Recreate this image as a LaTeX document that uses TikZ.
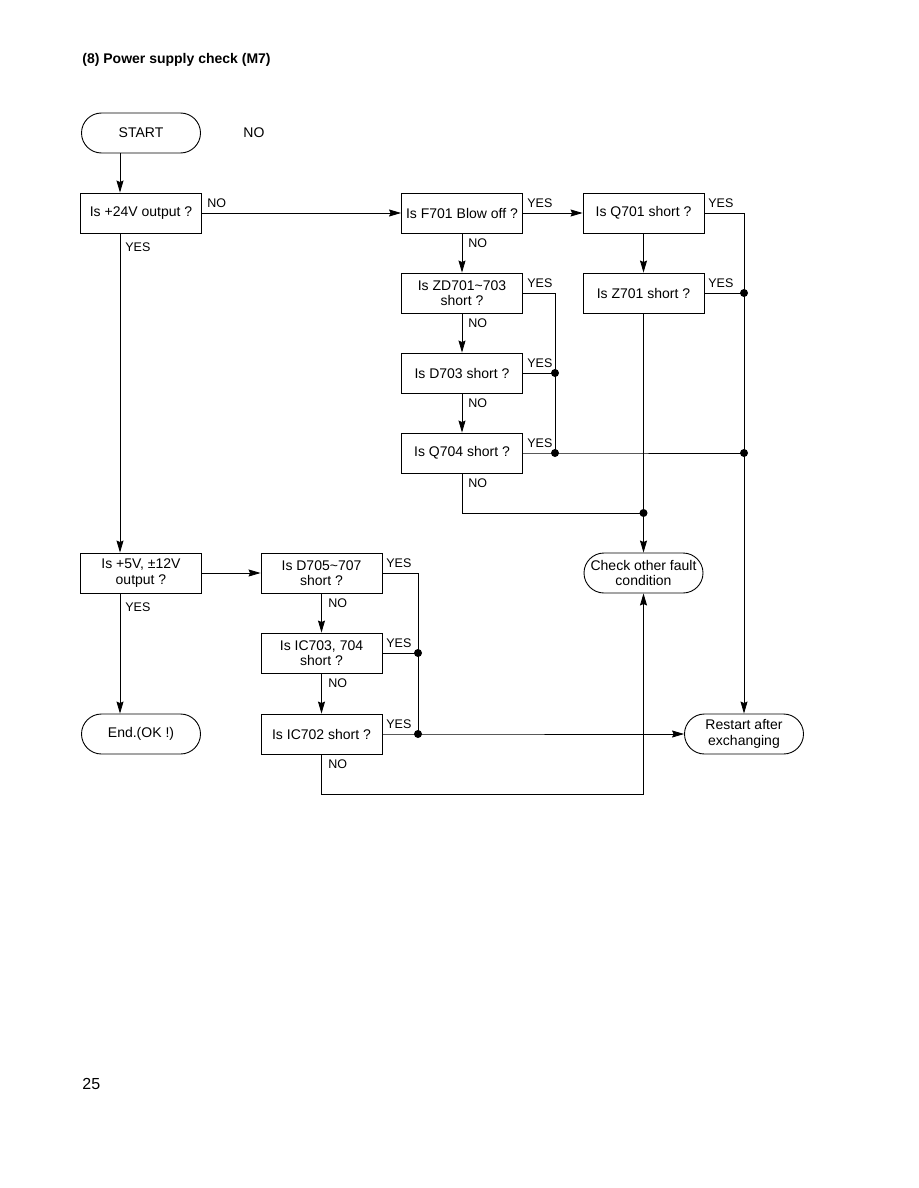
\documentclass[tikz,border=0pt]{standalone}
\usepackage{fontspec}
\setmainfont{Liberation Sans}
\usetikzlibrary{arrows.meta,shapes.misc}

\begin{document}
\begin{tikzpicture}[x=1pt, y=-1pt, >={Stealth[length=12pt,width=7pt,inset=1.5pt]},
  box/.style={draw, line width=0.9pt, minimum width=121pt, minimum height=40pt,
    align=center, inner sep=1pt, font=\fontsize{14}{15.5}\selectfont},
  term/.style={box, rounded rectangle},
  lbl/.style={anchor=west, inner sep=0pt, font=\fontsize{12.5}{14}\selectfont},
  dot/.style={circle, fill, inner sep=0pt, minimum size=8pt},
  every path/.style={line width=0.8pt}]
\useasboundingbox (0,0) rectangle (918,1188);

% title and page number
\node[anchor=west, inner sep=0pt, font=\fontsize{14}{16}\bfseries] (title) at (82,60) {(8) Power supply check (M7)};
\node[anchor=west, inner sep=0pt, font=\fontsize{16}{18}\selectfont] (page) at (82,1084) {25};

% left column
\node[term] (start) at (141,133) {START};
\node[anchor=west, inner sep=0pt, font=\fontsize{14}{16}\selectfont] (stray) at (243,133) {NO};
\node[box] (q24v) at (141,213) {Is +24V output ?};
\node[box] (q5v) at (141,573) {Is +5V, ±12V\\output ?};
\node[term] (endok) at (141,734) {End.(OK !)};

% +24V branch
\node[box] (f701) at (462,213) {Is F701 Blow off ?};
\node[box] (zd701) at (462,293) {Is ZD701\textasciitilde703\\short ?};
\node[box] (d703) at (462,373) {Is D703 short ?};
\node[box] (q704) at (462,453) {Is Q704 short ?};
\node[box] (q701) at (643.5,213) {Is Q701 short ?};
\node[box] (z701) at (643.5,293) {Is Z701 short ?};
\node[term] (check) at (643.5,573) {Check other fault\\condition};
\node[term] (restart) at (744,734) {Restart after\\exchanging};

% +5V, 12V branch
\node[box] (d705) at (321.5,573) {Is D705\textasciitilde707\\short ?};
\node[box] (ic703) at (321.5,653) {Is IC703, 704\\short ?};
\node[box] (ic702) at (321.5,734) {Is IC702 short ?};

% buses and junctions
\coordinate (trunk) at (120,0);
\coordinate (ybus) at (555,0);
\coordinate (lbus) at (418,0);
\coordinate (jq704) at (643.5,513);
\coordinate (jic702) at (643.5,794);

% main trunk
\draw[->] (start.south -| trunk) -- (q24v.north -| trunk);
\draw[->] (q24v.south -| trunk) -- (q5v.north -| trunk);
\draw[->] (q5v.south -| trunk) -- (endok.north -| trunk);
\node[lbl] at (125,247) {YES};
\node[lbl] at (125,607) {YES};

% +24V NO
\draw[->] (q24v.east) -- (f701.west);
\node[lbl] at (207,203) {NO};
\draw[->] (f701.east) -- (q701.west);
\node[lbl] at (527,203) {YES};
\draw[->] (q701.east) -| (restart.north);
\node[lbl] at (708,203) {YES};
\draw[->] (q701.south) -- (z701.north);
\draw (z701.east) -- (z701.east -| restart.north) node[dot] {};
\node[lbl] at (708,283) {YES};

\draw[->] (f701.south) -- (zd701.north);
\node[lbl] at (468,243) {NO};
\draw (zd701.east) -| (ybus |- q704.east);
\node[lbl] at (527,283) {YES};
\draw[->] (zd701.south) -- (d703.north);
\node[lbl] at (468,323) {NO};
\draw (d703.east) -- (d703.east -| ybus) node[dot] {};
\node[lbl] at (527,363) {YES};
\draw[->] (d703.south) -- (q704.north);
\node[lbl] at (468,403) {NO};
\draw (q704.east) -- (q704.east -| ybus) node[dot] {}
  -- (q704.east -| restart.north) node[dot] {};
\node[lbl] at (527,443) {YES};
\draw (q704.south) |- (jq704) node[dot] {};
\node[lbl] at (468,483) {NO};
\draw[->] (z701.south) -- (check.north);

% +5V, 12V NO
\draw[->] (q5v.east) -- (d705.west);
\draw (d705.east) -| (lbus |- ic702.east);
\node[lbl] at (386,563) {YES};
\draw[->] (d705.south) -- (ic703.north);
\node[lbl] at (328,603) {NO};
\draw (ic703.east) -- (ic703.east -| lbus) node[dot] {};
\node[lbl] at (386,643) {YES};
\draw[->] (ic703.south) -- (ic702.north);
\node[lbl] at (328,683) {NO};
\draw[->] (ic702.east) -- (ic702.east -| lbus) node[dot] {} -- (restart.west);
\node[lbl] at (386,724) {YES};
\draw[->] (ic702.south) |- (jic702) -- (check.south);
\node[lbl] at (328,764) {NO};

\end{tikzpicture}
\end{document}
